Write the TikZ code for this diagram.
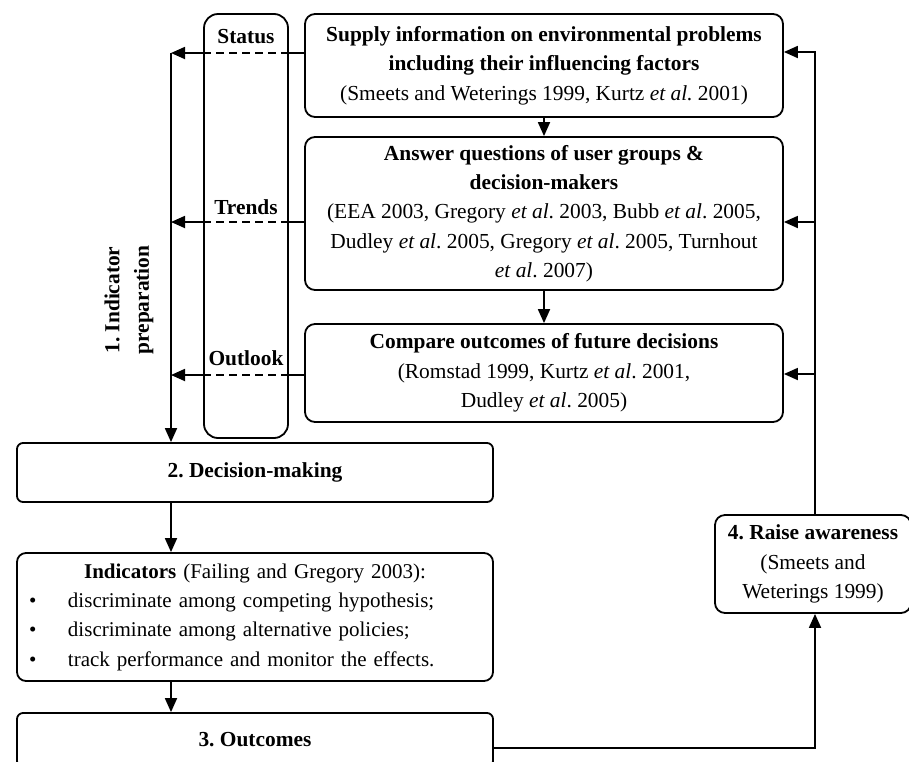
\documentclass[tikz,border=0pt]{standalone}
\usepackage{fontspec}
\setmainfont{Liberation Serif}
\usetikzlibrary{arrows.meta}
\frenchspacing
\begin{document}
\begin{tikzpicture}[x=1pt,y=-1pt,
  txt/.style={font=\fontsize{21.4}{29.3}\selectfont},
  box/.style={draw, line width=1.8pt, rounded corners=10pt, inner sep=0pt, align=center, txt},
  sbox/.style={box, rounded corners=6pt},
  lbl/.style={txt, font=\fontsize{21.4}{29.3}\selectfont\bfseries, inner sep=0pt},
  conn/.style={line width=1.8pt},
  arr/.style={conn, -{Triangle[length=14pt,width=12pt]}},
  dsh/.style={conn, dash pattern=on 8pt off 5pt}
]
\useasboundingbox (0,0) rectangle (909,761);
\clip (0,0) rectangle (909,761);

% upper boxes
\node[box, minimum width=478pt, minimum height=103pt] (supply) at (544,65.5)
  {\textbf{Supply information on environmental problems}\\
   \textbf{including their influencing factors}\\
   (Smeets and Weterings 1999, Kurtz \textit{et al.} 2001)};
\node[box, minimum width=478pt, minimum height=153pt] (answer) at (544,213.5)
  {\textbf{Answer questions of user groups \&}\\
   \textbf{decision-makers}\\
   (EEA 2003, Gregory \textit{et al}. 2003, Bubb \textit{et al}. 2005,\\
   Dudley \textit{et al}. 2005, Gregory \textit{et al}. 2005, Turnhout\\
   \textit{et al}. 2007)};
\node[box, minimum width=478pt, minimum height=98pt] (compare) at (544,373)
  {\textbf{Compare outcomes of future decisions}\\
   (Romstad 1999, Kurtz \textit{et al}. 2001,\\
   Dudley \textit{et al}. 2005)};

% column box
\node[box, rounded corners=14pt, minimum width=84pt, minimum height=424pt] (col) at (246,226) {};
\node[lbl] (status) at (246,37) {Status};
\node[lbl] (trends) at (246,207) {Trends};
\node[lbl] (outlook) at (246,358) {Outlook};

% rotated label
\node[lbl, rotate=90, align=center] (prep) at (129,300) {1. Indicator\\preparation};

% lower boxes
\node[sbox, minimum width=476pt, minimum height=59pt] (decision) at (255,472.5)
  {\textbf{2. Decision-making}};
\node[sbox, rounded corners=9pt, text width=476pt, minimum height=128pt, align=left,
      font=\fontsize{21}{29.3}\selectfont] (ind) at (255,617)
  {\makebox[476pt][c]{\textbf{Indicators} (Failing and Gregory 2003):}\\
   \hspace*{12pt}\makebox[39pt][l]{\textbullet}discriminate among competing hypothesis;\\
   \hspace*{12pt}\makebox[39pt][l]{\textbullet}discriminate among alternative policies;\\
   \hspace*{12pt}\makebox[39pt][l]{\textbullet}track performance and monitor the effects.};
\node[sbox, minimum width=476pt, minimum height=54pt] (outcomes) at (255,740)
  {\textbf{3. Outcomes}};
\node[box, minimum width=196pt, minimum height=98pt] (raise) at (813,564)
  {\textbf{4. Raise awareness}\\(Smeets and\\Weterings 1999)};

% coordinates
\coordinate (ls) at (171,53);
\coordinate (lt) at (171,222);
\coordinate (lo) at (171,375);
\coordinate (rs) at (815,52);
\coordinate (rt) at (815,222);
\coordinate (ro) at (815,374);
\coordinate (ob) at (492,748);

% vertical flow arrows
\draw[arr] (supply.south) -- (answer.north);
\draw[arr] (answer.south) -- (compare.north);
\draw[arr] (decision.south -| ls) -- (ind.north -| ls);
\draw[arr] (ind.south -| ls) -- (outcomes.north -| ls);

% left side
\foreach \c in {ls,lt,lo}{
  \draw[conn] (supply.west |- \c) -- (col.east |- \c);
  \draw[dsh] (col.east |- \c) -- (col.west |- \c);
  \draw[arr] (col.west |- \c) -- (\c);
}
\draw[arr] (ls) -- (ls |- decision.north);

% right side
\draw[arr] (rs |- raise.north) -- (rs) -- (rs -| supply.east);
\draw[arr] (rt) -- (rt -| answer.east);
\draw[arr] (ro) -- (ro -| compare.east);
\draw[arr] (ob) -- (ob -| rs) -- (rs |- raise.south);
\end{tikzpicture}
\end{document}
